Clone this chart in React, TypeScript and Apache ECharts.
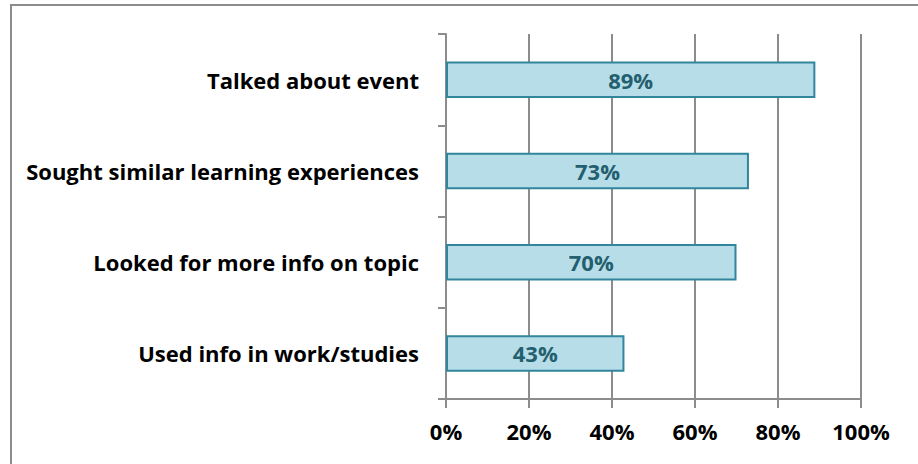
import React, { useEffect, useRef } from "react";
import * as echarts from "echarts";

const categories = [
  "Talked about event",
  "Sought similar learning experiences",
  "Looked for more info on topic",
  "Used info in work/studies",
];
const values = [89, 73, 70, 43];
const xTicks = [0, 20, 40, 60, 80, 100];

const FONT = "'Open Sans', 'Noto Sans', sans-serif";

export default function App() {
  const ref = useRef<HTMLDivElement>(null);
  useEffect(() => {
    if (!ref.current) return;
    const chart = echarts.init(ref.current, null, { renderer: "svg" });
    chart.setOption({
      animation: false,
      backgroundColor: "#ffffff",
      graphic: [
        {
          type: "rect",
          shape: { x: 11, y: 5, width: 920, height: 470 },
          style: { fill: "none", stroke: "#8c8c8c", lineWidth: 2 },
          silent: true,
        },
      ],
      grid: { left: 446, right: 57, top: 34, bottom: 65, containLabel: false },
      xAxis: {
        type: "value",
        min: xTicks[0],
        max: xTicks[xTicks.length - 1],
        interval: 20,
        axisLine: { show: true, lineStyle: { color: "#8c8c8c", width: 2 } },
        axisTick: { show: true, length: 9, lineStyle: { color: "#8c8c8c", width: 2 } },
        splitLine: { show: true, lineStyle: { color: "#8c8c8c", width: 2 } },
        axisLabel: {
          formatter: "{value}%",
          color: "#000",
          fontFamily: FONT,
          fontWeight: "bold",
          fontSize: 22,
          margin: 21,
        },
      },
      yAxis: {
        type: "category",
        data: categories,
        inverse: true,
        axisLine: { show: true, lineStyle: { color: "#8c8c8c", width: 2 } },
        axisTick: { show: true, length: 8, lineStyle: { color: "#8c8c8c", width: 2 } },
        axisLabel: {
          color: "#000",
          fontFamily: FONT,
          fontWeight: "bold",
          fontSize: 22,
          margin: 27,
        },
      },
      series: [
        {
          type: "bar",
          data: values,
          barCategoryGap: "60%",
          itemStyle: { color: "#b7dde8", borderColor: "#31859c", borderWidth: 2 },
          label: {
            show: true,
            position: "inside",
            formatter: "{c}%",
            color: "#245f6f",
            fontFamily: FONT,
            fontWeight: "bold",
            fontSize: 22,
          },
        },
      ],
    });
    return () => chart.dispose();
  }, []);
  return (
    <div
      ref={ref}
      style={{ position: "absolute", left: 0, top: 0, width: 918, height: 464 }}
    />
  );
}
